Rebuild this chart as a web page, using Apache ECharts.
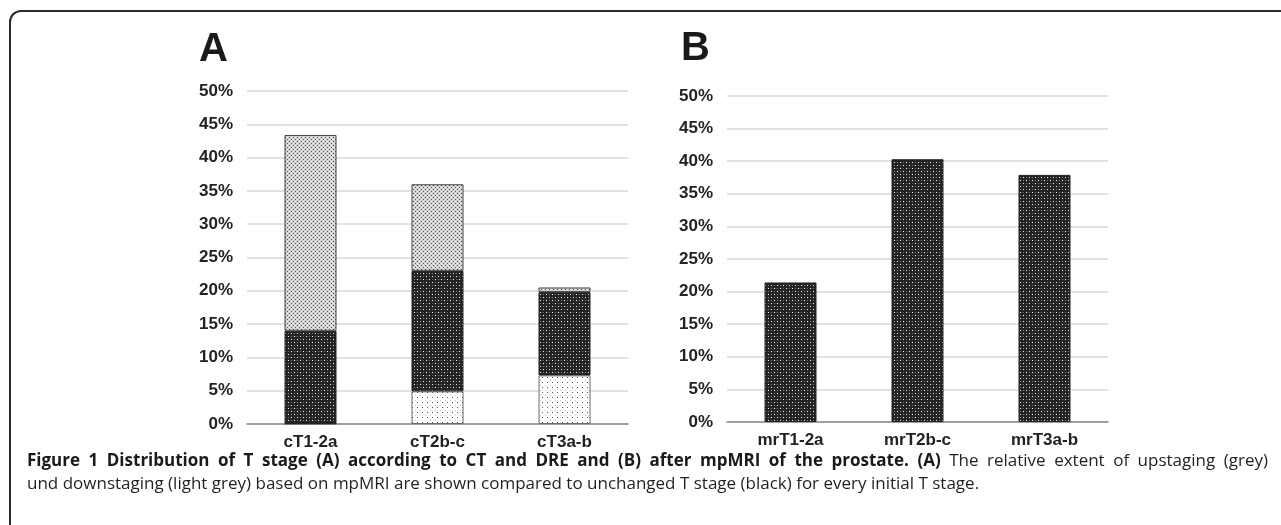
<!DOCTYPE html>
<html>
<head>
<meta charset="utf-8">
<script src="https://cdn.jsdelivr.net/npm/echarts@6/dist/echarts.min.js"></script>
<style>
  html, body { margin: 0; padding: 0; background: #fff; }
  #wrap { position: relative; width: 1281px; height: 525px; overflow: hidden; }
  #frame { position: absolute; left: 9px; top: 10px; width: 1290px; height: 540px;
           border-left: 2px solid #2b2b2b; border-top: 2px solid #2b2b2b; border-top-left-radius: 12px; }
  #chart { position: absolute; left: 0; top: 0; width: 1281px; height: 525px; }
  #caption { position: absolute; left: 27px; top: 448px; width: 1241px;
             font-family: 'Open Sans', sans-serif; font-size: 17px; line-height: 23px; color: #231f20; }
  #caption .l1 { text-align: justify; text-align-last: justify; white-space: nowrap; }
  #caption .l1 { white-space: normal; }
  #caption b { font-weight: bold; color: #1a1a1a; }
</style>
</head>
<body>
<div id="wrap">
  <div id="frame"></div>
  <div id="chart"></div>
  <div id="caption"><div class="l1" id="cap1"></div><div id="cap2"></div></div>
</div>
<script>
// ---- data ----
var catsA = ['cT1-2a', 'cT2b-c', 'cT3a-b'];
var downstaged = [0, 4.9, 7.3];      // light grey
var unchanged  = [14.0, 18.1, 12.5]; // black
var upstaged   = [29.4, 13.0, 0.7];  // grey
var catsB = ['mrT1-2a', 'mrT2b-c', 'mrT3a-b'];
var mriValues = [21.4, 40.3, 37.9];
var yTicks = { min: 0, max: 50, interval: 5 };
var captionBold = 'Figure 1 Distribution of T stage (A) according to CT and DRE and (B) after mpMRI of the prostate. (A)';
var captionRest1 = ' The relative extent of upstaging (grey)';
var captionLine2 = 'und downstaging (light grey) based on mpMRI are shown compared to unchanged T stage (black) for every initial T stage.';

// caption text
var b = document.createElement('b'); b.textContent = captionBold;
var cap1 = document.getElementById('cap1');
cap1.appendChild(b); cap1.appendChild(document.createTextNode(captionRest1));
document.getElementById('cap2').textContent = captionLine2;

// ---- patterns ----
function makePattern(size, bg, dots) {
  var c = document.createElement('canvas');
  c.width = size; c.height = size;
  var g = c.getContext('2d');
  g.fillStyle = bg; g.fillRect(0, 0, size, size);
  dots.forEach(function (d) { g.fillStyle = d[2]; g.fillRect(d[0], d[1], 1, 1); });
  return { image: c, repeat: 'repeat' };
}
var blackPat = makePattern(6, '#242424', [[0,0,'#f0f0f0'],[3,3,'#f0f0f0'],[3,0,'#7a7a7a'],[0,3,'#7a7a7a']]);
var greyPat  = makePattern(4, '#d2d2d2', [[1,1,'#4a4a4a'],[3,3,'#5a5a5a'],[1,3,'#f4f4f4'],[3,1,'#f4f4f4']]);
var lightPat = makePattern(5, '#ffffff', [[2,2,'#555555'],[0,0,'#c8c8c8']]);

var labelFont = { fontFamily: 'Liberation Sans, Arial, sans-serif', fontWeight: 'bold', fontSize: 17, color: '#222' };

function yAxis(gi) {
  return {
    type: 'value', gridIndex: gi, min: yTicks.min, max: yTicks.max, interval: yTicks.interval,
    axisLine: { show: false }, axisTick: { show: false },
    axisLabel: Object.assign({ formatter: '{value}%', margin: 14 }, labelFont),
    splitLine: { lineStyle: { color: '#d9d9d9', width: 1.5 } }
  };
}
function xAxis(gi, cats) {
  return {
    type: 'category', gridIndex: gi, data: cats,
    axisLine: { lineStyle: { color: '#8a8a8a', width: 1.5 } },
    axisTick: { show: false },
    axisLabel: Object.assign({ margin: 10 }, labelFont)
  };
}

var chart = echarts.init(document.getElementById('chart'), null, { renderer: 'canvas' });
chart.setOption({
  animation: false,
  grid: [
    { left: 247, right: 653, top: 91, bottom: 101 },
    { left: 727, right: 173, top: 96, bottom: 103 }
  ],
  xAxis: [xAxis(0, catsA), xAxis(1, catsB)],
  yAxis: [yAxis(0), yAxis(1)],
  series: [
    { type: 'bar', name: 'downstaging', xAxisIndex: 0, yAxisIndex: 0, stack: 'a', barWidth: 52, data: downstaged,
      itemStyle: { color: lightPat, borderColor: '#6a6a6a', borderWidth: 1 } },
    { type: 'bar', name: 'unchanged', xAxisIndex: 0, yAxisIndex: 0, stack: 'a', barWidth: 52, data: unchanged,
      itemStyle: { color: blackPat, borderColor: '#222', borderWidth: 1 } },
    { type: 'bar', name: 'upstaging', xAxisIndex: 0, yAxisIndex: 0, stack: 'a', barWidth: 52, data: upstaged,
      itemStyle: { color: greyPat, borderColor: '#444', borderWidth: 1 } },
    { type: 'bar', name: 'mpMRI', xAxisIndex: 1, yAxisIndex: 1, barWidth: 52, data: mriValues,
      itemStyle: { color: blackPat, borderColor: '#222', borderWidth: 1 } }
  ],
  graphic: [
    { type: 'text', left: 199, top: 30, style: { text: 'A', font: 'bold 40px "Liberation Sans", Arial, sans-serif', fill: '#1a1a1a' } },
    { type: 'text', left: 681, top: 29, style: { text: 'B', font: 'bold 40px "Liberation Sans", Arial, sans-serif', fill: '#1a1a1a' } }
  ]
});
</script>
</body>
</html>
